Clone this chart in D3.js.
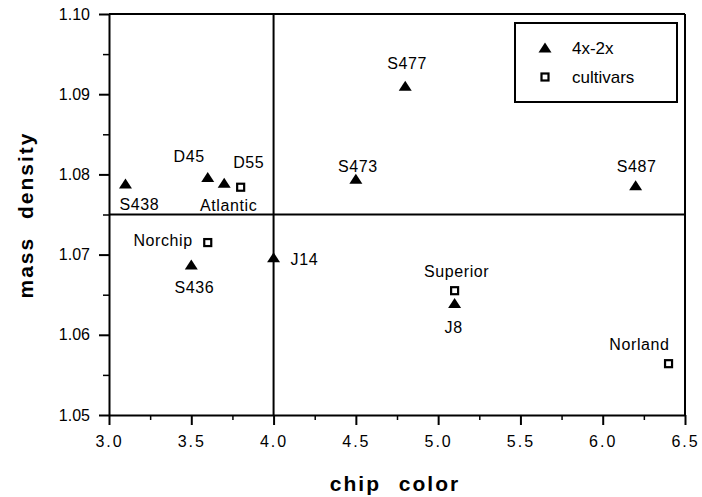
<!DOCTYPE html>
<html>
<head>
<meta charset="utf-8">
<script src="https://cdn.jsdelivr.net/npm/d3@7"></script>
<style>
  body { margin: 0; background: #fff; }
  text { font-family: "Liberation Sans", Arial, sans-serif; fill: #000; }
</style>
</head>
<body>
<script>
// clone names, group, chip color, mass density
var names   = ["S438", "D45", "D55", "S473", "S477", "S487", "S436", "J14", "J8",
               "Atlantic", "Norchip", "Superior", "Norland"];
var groups  = ["4x-2x", "4x-2x", "4x-2x", "4x-2x", "4x-2x", "4x-2x", "4x-2x", "4x-2x", "4x-2x",
               "cultivars", "cultivars", "cultivars", "cultivars"];
var chip    = [3.1, 3.6, 3.7, 4.5, 4.8, 6.2, 3.5, 4.0, 5.1, 3.8, 3.6, 5.1, 6.4];
var density = [1.0788, 1.0796, 1.0789, 1.0794, 1.0910, 1.0786, 1.0687, 1.0696, 1.0639,
               1.0784, 1.0715, 1.0655, 1.0564];

var xTicks = [3.0, 3.5, 4.0, 4.5, 5.0, 5.5, 6.0, 6.5];
var yTicks = [1.05, 1.06, 1.07, 1.08, 1.09, 1.10];
var xCut = 4.0, yCut = 1.075;

// label placement: [dx, dy, anchor]
var labelPos = {
  "S438": [-6, 26, "start"], "D45": [-3, -16, "end"], "D55": [9, -15, "start"],
  "S473": [2, -7, "middle"], "S477": [2, -17, "middle"], "S487": [1, -14, "middle"],
  "S436": [3, 28, "middle"], "J14": [17, 7, "start"], "J8": [-1, 29, "middle"],
  "Atlantic": [-12, 24, "middle"], "Norchip": [-15, 3, "end"],
  "Superior": [2, -14, "middle"], "Norland": [1, -14, "end"]
};

var width = 702, height = 497;
var svg = d3.select("body").append("svg")
    .attr("width", width)
    .attr("height", height);

var x = d3.scaleLinear().domain([3.0, 6.5]).range([109, 685]);
var y = d3.scaleLinear().domain([1.05, 1.10]).range([415, 14]);

// minor ticks
var xMinor = d3.range(3.25, 6.5, 0.5);
var yMinor = d3.range(1.055, 1.10, 0.01);

svg.append("g")
    .attr("transform", "translate(0,415)")
    .call(d3.axisBottom(x).tickValues(xMinor).tickSize(5).tickFormat(""))
    .call(function (g) { g.select(".domain").remove(); })
    .selectAll("line").attr("stroke-width", 1.5);

svg.append("g")
    .attr("transform", "translate(109,0)")
    .call(d3.axisLeft(y).tickValues(yMinor).tickSize(6).tickFormat(""))
    .call(function (g) { g.select(".domain").remove(); })
    .selectAll("line").attr("stroke-width", 1.5);

var xAxis = svg.append("g")
    .attr("transform", "translate(0,415)")
    .call(d3.axisBottom(x).tickValues(xTicks).tickSize(10).tickSizeOuter(0).tickPadding(11)
          .tickFormat(d3.format(".1f")));
xAxis.select(".domain").attr("stroke-width", 2);
xAxis.selectAll("line").attr("stroke-width", 2);
xAxis.selectAll("text")
    .style("font-size", "16px")
    .style("letter-spacing", "2px");

var yAxis = svg.append("g")
    .attr("transform", "translate(109,0)")
    .call(d3.axisLeft(y).tickValues(yTicks).tickSize(10).tickSizeOuter(0).tickPadding(9)
          .tickFormat(d3.format(".2f")));
yAxis.select(".domain").attr("stroke-width", 2);
yAxis.selectAll("line").attr("stroke-width", 2);
yAxis.selectAll("text").style("font-size", "16px");

// frame top/right
svg.append("line").attr("x1", x(3.0)).attr("x2", x(6.5)).attr("y1", y(1.10)).attr("y2", y(1.10))
    .attr("stroke", "#000").attr("stroke-width", 2);
svg.append("line").attr("x1", x(6.5)).attr("x2", x(6.5)).attr("y1", y(1.10)).attr("y2", y(1.05))
    .attr("stroke", "#000").attr("stroke-width", 2);

// quadrant lines
svg.append("line").attr("x1", x(xCut)).attr("x2", x(xCut)).attr("y1", y(1.10)).attr("y2", y(1.05))
    .attr("stroke", "#000").attr("stroke-width", 2);
svg.append("line").attr("x1", x(3.0)).attr("x2", x(6.5)).attr("y1", y(yCut)).attr("y2", y(yCut))
    .attr("stroke", "#000").attr("stroke-width", 2);

var triPath = "M0,-5.5L6.5,4.5L-6.5,4.5Z";

function drawMarker(sel, group) {
  if (group === "4x-2x") {
    sel.append("path").attr("d", triPath).attr("fill", "#000");
  } else {
    sel.append("rect").attr("x", -3.5).attr("y", -3.5).attr("width", 7).attr("height", 7)
        .attr("fill", "#fff").attr("stroke", "#000").attr("stroke-width", 2.2);
  }
}

var pts = svg.append("g").selectAll("g")
    .data(names)
    .enter()
    .append("g")
    .attr("transform", function (d, i) {
      return "translate(" + x(chip[i]) + "," + y(density[i]) + ")";
    });

pts.each(function (d, i) { drawMarker(d3.select(this), groups[i]); });

pts.append("text")
    .attr("x", function (d) { return labelPos[d][0]; })
    .attr("y", function (d) { return labelPos[d][1]; })
    .attr("text-anchor", function (d) { return labelPos[d][2]; })
    .style("font-size", "16px")
    .style("letter-spacing", "0.6px")
    .text(function (d) { return d; });

// legend
var legendItems = ["4x-2x", "cultivars"];
svg.append("rect").attr("x", 515).attr("y", 23).attr("width", 162).attr("height", 79)
    .attr("fill", "#fff").attr("stroke", "#000").attr("stroke-width", 2);
var lg = svg.append("g").selectAll("g")
    .data(legendItems)
    .enter()
    .append("g")
    .attr("transform", function (d, i) { return "translate(545," + (48 + i * 29) + ")"; });
lg.each(function (d) { drawMarker(d3.select(this), d); });
lg.append("text")
    .attr("x", 27)
    .attr("y", 6)
    .style("font-size", "17px")
    .text(function (d) { return d; });

// axis titles
svg.append("text")
    .attr("x", 395)
    .attr("y", 491)
    .attr("text-anchor", "middle")
    .style("font-size", "21px")
    .style("font-weight", "bold")
    .style("letter-spacing", "2px")
    .style("word-spacing", "10px")
    .text("chip color");

svg.append("text")
    .attr("transform", "translate(33,215) rotate(-90)")
    .attr("text-anchor", "middle")
    .style("font-size", "21px")
    .style("font-weight", "bold")
    .style("letter-spacing", "2px")
    .style("word-spacing", "10px")
    .text("mass density");
</script>
</body>
</html>
